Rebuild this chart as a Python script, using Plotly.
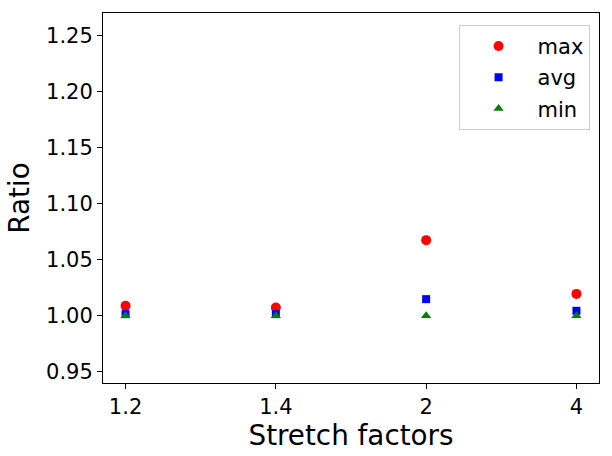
import plotly.graph_objects as go

categories = ["1.2", "1.4", "2", "4"]
max_vals = [1.0089, 1.0074, 1.0676, 1.0196]
avg_vals = [1.0015, 1.0015, 1.0149, 1.0045]
min_vals = [1.0, 1.0, 1.0, 1.0]
y_ticks = [0.95, 1.00, 1.05, 1.10, 1.15, 1.20, 1.25]

fig = go.Figure()
fig.add_trace(go.Scatter(x=categories, y=max_vals, mode="markers", name="max", legendgroup="a",
                         marker=dict(symbol="circle", color="red", size=10)))
fig.add_trace(go.Scatter(x=categories, y=avg_vals, mode="markers", name="avg", legendgroup="b",
                         marker=dict(symbol="square", color="blue", size=8)))
fig.add_trace(go.Scatter(x=categories, y=min_vals, mode="markers", name="min", legendgroup="c",
                         marker=dict(symbol="triangle-up", color="green", size=9)))

font = "DejaVu Sans"
fig.update_layout(
    width=612, height=456,
    margin=dict(l=103, r=13, t=13, b=73),
    paper_bgcolor="white", plot_bgcolor="white",
    font=dict(family=font, size=21, color="black"),
    showlegend=True,
    legend=dict(x=0.981, y=0.968, xanchor="right", yanchor="top",
                bordercolor="#cccccc", borderwidth=1, bgcolor="rgba(255,255,255,0.8)",
                font=dict(size=21), itemwidth=68, tracegroupgap=1),
    xaxis=dict(type="category", range=[-0.15, 3.15], showgrid=False, zeroline=False,
               showline=True, linecolor="black", linewidth=1, mirror=True,
               ticks="outside", ticklen=5, tickcolor="black",
               title=dict(text="Stretch factors", font=dict(size=27.8), standoff=6),
               tickfont=dict(size=21)),
    yaxis=dict(range=[0.940, 1.2705], showgrid=False, zeroline=False,
               showline=True, linecolor="black", linewidth=1, mirror=True,
               ticks="outside", ticklen=5, tickcolor="black",
               tickvals=y_ticks, ticktext=[f"{v:.2f}" for v in y_ticks],
               title=dict(text="Ratio", font=dict(size=27.8), standoff=8),
               tickfont=dict(size=21)),
)
fig.write_html("out.html")
